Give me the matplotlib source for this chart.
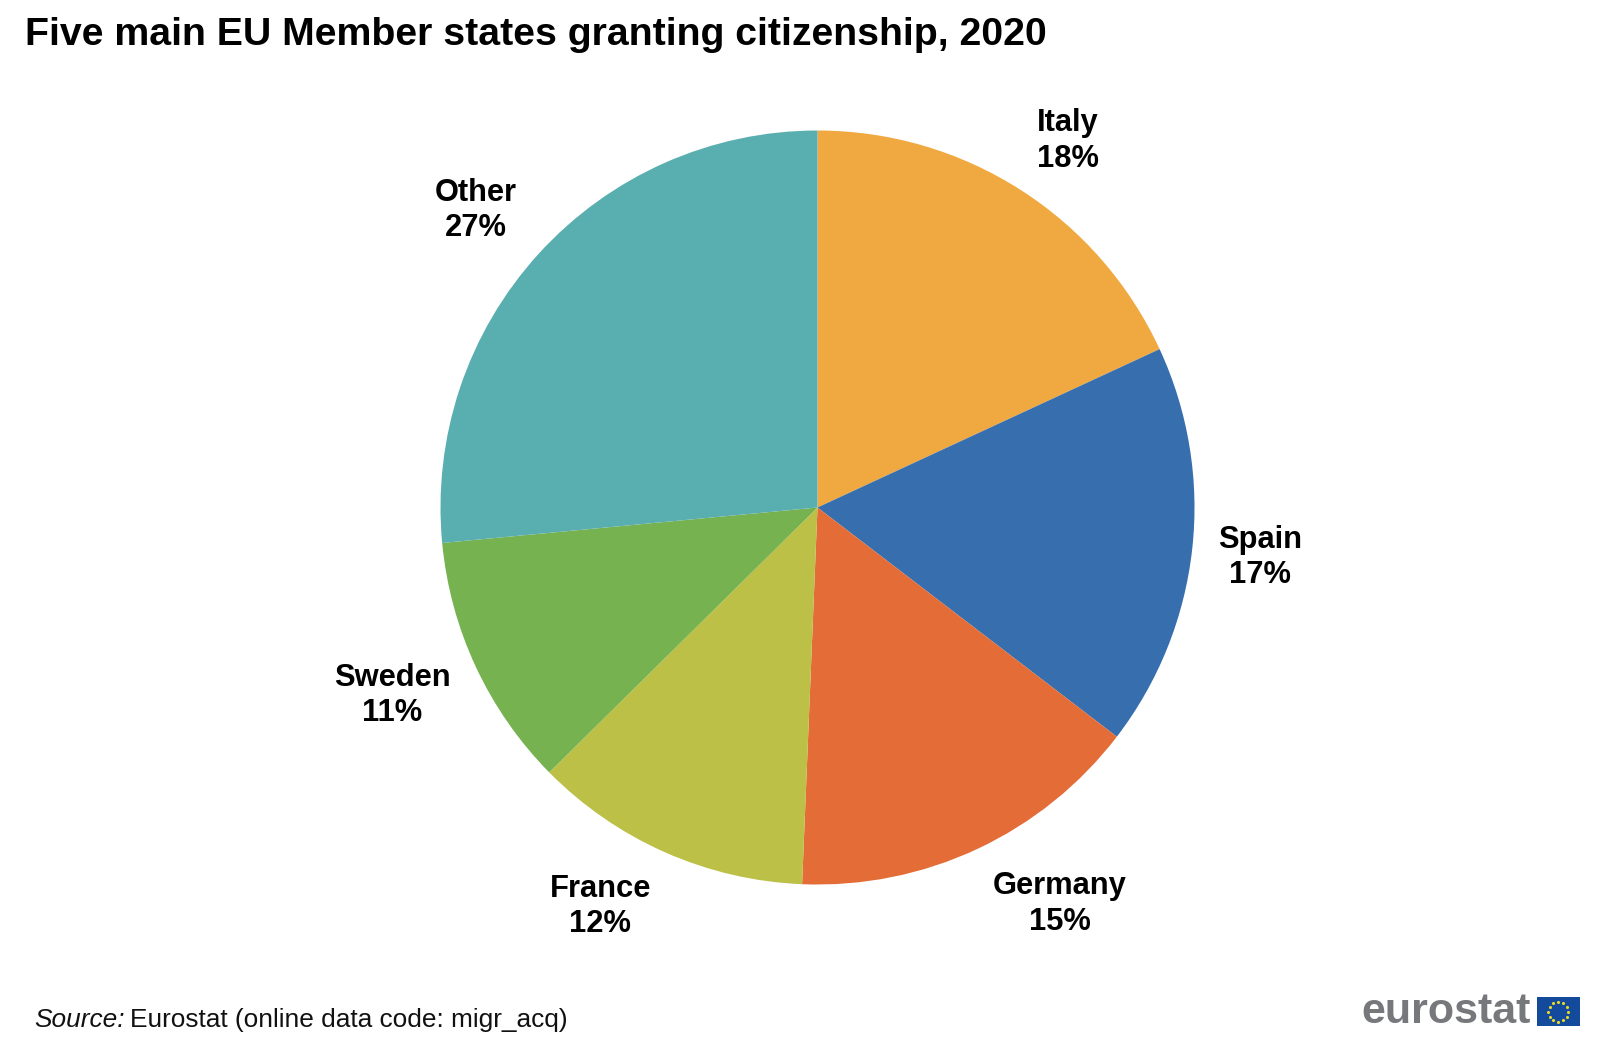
import matplotlib
matplotlib.use("Agg")
import matplotlib.pyplot as plt
from matplotlib.patches import Rectangle
import numpy as np

plt.rcParams['font.family'] = ['Liberation Sans', 'DejaVu Sans']

categories = ["Italy", "Spain", "Germany", "France", "Sweden", "Other"]
values = [18.1, 17.3, 15.25, 11.95, 10.9, 26.5]
pct_labels = ["18%", "17%", "15%", "12%", "11%", "27%"]
colors = ["#F0A941", "#376EAE", "#E36C37", "#BCC046", "#76B250", "#59AEB0"]
title = "Five main EU Member states granting citizenship, 2020"

W, H = 1624, 1056
fig = plt.figure(figsize=(W/100, H/100), dpi=100)
fig.patch.set_facecolor("white")

cx, cy, r = 817.5, 507.5, 377
ax = fig.add_axes([(cx-r)/W, 1-(cy+r)/H, 2*r/W, 2*r/H])
wedges, _ = ax.pie(values, colors=colors, startangle=90, counterclock=False, radius=1,
                   wedgeprops=dict(linewidth=0))
ax.set_xlim(-1, 1); ax.set_ylim(-1, 1)

label_pos = [(1068, 141), (1260, 557.5), (1060, 904), (600.5, 906.5), (392, 695.5), (476, 210.5)]
for cat, p, (x, y) in zip(categories, pct_labels, label_pos):
    fig.text(x/W, 1-y/H, f"{cat}\n{p}", ha="center", va="center", fontsize=22.2,
             fontweight="bold", color="black", linespacing=1.24)

fig.text(25/W, 1-35/H, title, ha="left", va="center", fontsize=28.3, fontweight="bold", color="black")
fig.text(34/W, 1-1020/H, "Source:", ha="left", va="center", fontsize=18.9, style="italic", color="#111111")
fig.text(130/W, 1-1020/H, "Eurostat (online data code: migr_acq)", ha="left", va="center", fontsize=18.9, color="#111111")

fig.text(1531/W, 1-1012/H, "eurostat", ha="right", va="center", fontsize=31, fontweight="bold", color="#77787B")
overlay = fig.add_axes([0, 0, 1, 1]); overlay.set_xlim(0, W); overlay.set_ylim(H, 0); overlay.axis("off")
overlay.add_patch(Rectangle((1537, 997), 43, 29, facecolor="#134A9C", edgecolor="none"))
a = np.linspace(0, 2*np.pi, 12, endpoint=False)
overlay.scatter(1558.5+10*np.cos(a), 1011.5+10*np.sin(a), s=5, color="#E8D92A", linewidths=0)
fig.savefig("out.png", dpi=100)
